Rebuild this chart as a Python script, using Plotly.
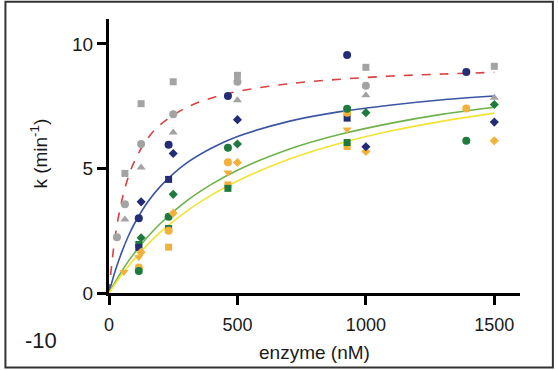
import plotly.graph_objects as go

# ---- data ----
gray_x_sq = [62, 125, 250, 500, 1000, 1500]
gray_y_sq = [4.80, 7.60, 8.48, 8.74, 9.06, 9.10]
gray_x_ci = [31, 62, 125, 250, 500, 1000]
gray_y_ci = [2.24, 3.56, 5.98, 7.18, 8.48, 8.32]
gray_x_tr = [62, 125, 250, 500, 1000, 1500]
gray_y_tr = [2.95, 5.04, 6.44, 7.74, 7.94, 7.84]

navy_x_ci = [116, 232, 463, 927, 1391]
navy_y_ci = [3.00, 5.95, 7.91, 9.55, 8.87]
navy_x_sq = [116, 232, 927]
navy_y_sq = [1.83, 4.56, 7.02]
navy_x_di = [125, 250, 500, 1000, 1500]
navy_y_di = [3.66, 5.60, 6.96, 5.87, 6.86]

green_x_ci = [116, 232, 463, 927, 1391]
green_y_ci = [0.88, 3.06, 5.83, 7.40, 6.11]
green_x_sq = [116, 232, 463, 927]
green_y_sq = [1.95, 2.59, 4.20, 6.04]
green_x_di = [125, 250, 500, 1000, 1500]
green_y_di = [2.22, 3.96, 5.98, 7.24, 7.57]

orange_x_ci = [116, 232, 463, 927, 1391]
orange_y_ci = [1.02, 2.50, 5.25, 7.24, 7.41]
orange_x_sq = [232, 463, 927]
orange_y_sq = [1.84, 4.34, 5.88]
orange_x_di = [125, 250, 500, 1000, 1500]
orange_y_di = [1.64, 3.20, 5.24, 5.68, 6.11]
orange_x_tr = [58, 116, 463, 927]
orange_y_tr = [0.84, 1.44, 4.84, 6.56]

# fitted curves
fit_x = [0, 10, 25, 50, 75, 100, 150, 200, 300, 400, 500, 700, 900, 1100, 1300, 1500]
fit_red = [0, 1.09, 2.33, 3.72, 4.65, 5.31, 6.20, 6.76, 7.44, 7.83, 8.09, 8.40, 8.58, 8.71, 8.79, 8.86]
fit_blue = [0, 0.39, 0.91, 1.65, 2.28, 2.80, 3.64, 4.28, 5.20, 5.82, 6.28, 6.89, 7.28, 7.55, 7.76, 7.91]
fit_green = [0, 0.19, 0.46, 0.88, 1.27, 1.62, 2.25, 2.79, 3.68, 4.37, 4.93, 5.77, 6.37, 6.82, 7.18, 7.46]
fit_yellow = [0, 0.16, 0.38, 0.74, 1.07, 1.38, 1.94, 2.44, 3.27, 3.94, 4.50, 5.37, 6.01, 6.51, 6.90, 7.22]

x_ticks = [0, 500, 1000, 1500]
y_ticks = [0, 5, 10]

GRAY = "#A3A3A3"
NAVY = "#232C76"
GREEN = "#1F7A3E"
ORANGE = "#F2B13A"

FONT = "Arial, Liberation Sans, sans-serif"

fig = go.Figure()

for ys, col, dash, w in [(fit_red, "#D9403F", "dash", 1.6),
                         (fit_blue, "#3A55A3", "solid", 1.6),
                         (fit_green, "#6DB24A", "solid", 1.6),
                         (fit_yellow, "#F2E330", "solid", 1.6)]:
    fig.add_trace(go.Scatter(x=fit_x, y=ys, mode="lines",
                             line=dict(color=col, dash=dash, width=w, shape="spline"),
                             showlegend=False, hoverinfo="skip", cliponaxis=False))

def pts(x, y, col, sym, size):
    fig.add_trace(go.Scatter(x=x, y=y, mode="markers",
                             marker=dict(color=col, symbol=sym, size=size, line=dict(width=0)),
                             showlegend=False, cliponaxis=False))

pts(gray_x_sq, gray_y_sq, GRAY, "square", 7)
pts(gray_x_ci, gray_y_ci, GRAY, "circle", 8)
pts(gray_x_tr, gray_y_tr, GRAY, "triangle-up", 8)
pts(orange_x_sq, orange_y_sq, ORANGE, "square", 7)
pts(green_x_sq, green_y_sq, GREEN, "square", 7)
pts(navy_x_sq, navy_y_sq, NAVY, "square", 7)
pts(orange_x_tr, orange_y_tr, ORANGE, "triangle-down", 8)
pts(orange_x_ci, orange_y_ci, ORANGE, "circle", 8)
pts(green_x_ci, green_y_ci, GREEN, "circle", 8)
pts(navy_x_ci, navy_y_ci, NAVY, "circle", 8)
pts(orange_x_di, orange_y_di, ORANGE, "diamond", 7)
pts(green_x_di, green_y_di, GREEN, "diamond", 7)
pts(navy_x_di, navy_y_di, NAVY, "diamond", 7)

fig.update_layout(
    width=558, height=370,
    margin=dict(l=108.6, r=38, t=19.3, b=77.3),
    paper_bgcolor="white", plot_bgcolor="white",
    font=dict(family=FONT, color="#1a1a1a", size=18),
    xaxis=dict(range=[0, 1600], tickvals=x_ticks, ticks="outside", ticklen=9, tickwidth=3,
               tickcolor="black", showline=True, linecolor="black", linewidth=3,
               showgrid=False, zeroline=False, tickfont=dict(size=18), ticklabelstandoff=4),
    yaxis=dict(range=[0, 11], tickvals=y_ticks, ticks="outside", ticklen=9, tickwidth=3,
               tickcolor="black", showline=True, linecolor="black", linewidth=3,
               showgrid=False, zeroline=False, tickfont=dict(size=19)),
    annotations=[
        dict(text="enzyme (nM)", x=0.499, y=-0.217, xref="paper", yref="paper",
             showarrow=False, font=dict(size=19), xanchor="center", yanchor="middle"),
        dict(text="k (min<sup>-1</sup>)", x=-0.169, y=0.507, xref="paper", yref="paper",
             showarrow=False, textangle=-90, font=dict(size=19), xanchor="center", yanchor="middle"),
        dict(text="-10", x=-0.165, y=-0.175, xref="paper", yref="paper",
             showarrow=False, font=dict(size=22), xanchor="center", yanchor="middle"),
    ],
    shapes=[dict(type="rect", xref="paper", yref="paper", x0=-0.252, x1=1.080, y0=-0.272, y1=1.063,
                 line=dict(color="#333333", width=2), fillcolor="rgba(0,0,0,0)", layer="below")],
)

fig.write_html("out.html", config={"displayModeBar": False},
               post_script="document.body.style.margin='0';document.body.style.overflow='hidden';")
